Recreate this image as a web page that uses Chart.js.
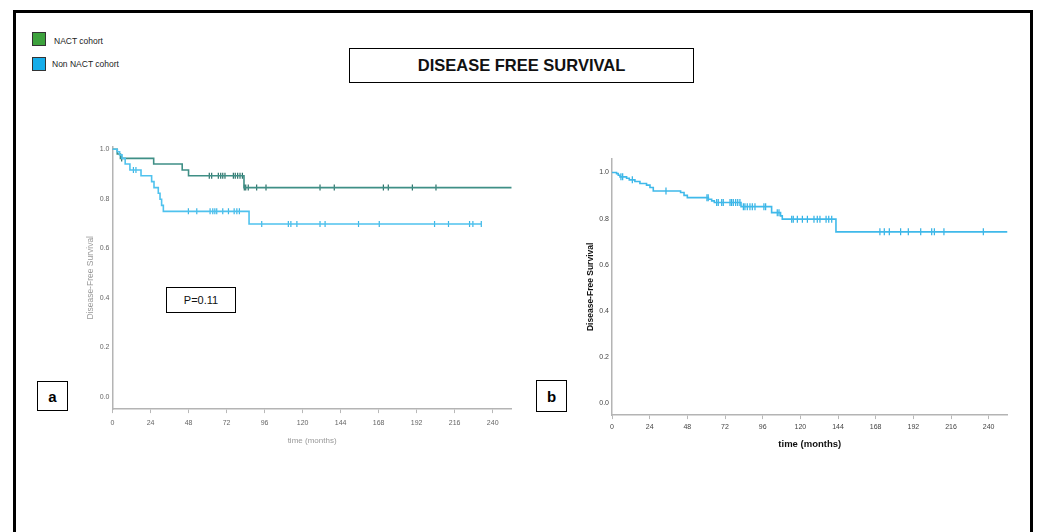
<!DOCTYPE html>
<html>
<head>
<meta charset="utf-8">
<script src="https://cdn.jsdelivr.net/npm/chart.js@4.4.1/dist/chart.umd.min.js"></script>
<style>
  html, body { margin: 0; padding: 0; background: #fff; overflow: hidden; }
  body { width: 1045px; height: 532px; position: relative; font-family: 'Liberation Sans', Arial, sans-serif; }
  .frame { position: absolute; left: 13px; top: 10px; width: 1020px; height: 560px; border: 3px solid #000; box-sizing: border-box; }
  .sq { position: absolute; width: 12px; height: 12px; border: 1px solid #333; }
  .leg { position: absolute; font-size: 8.5px; color: #222; line-height: 10px; }
  .box { position: absolute; border: 1.5px solid #000; box-sizing: border-box; display: flex; align-items: center; justify-content: center; background: #fff; }
  canvas { position: absolute; }
</style>
</head>
<body>
<div class="frame"></div>

<div class="sq" style="left:32px; top:32px; background:#3da23d;"></div>
<div class="leg" style="left:54px; top:36px;">NACT cohort</div>
<div class="sq" style="left:32px; top:57px; background:#16ade9;"></div>
<div class="leg" style="left:52px; top:59px;">Non NACT cohort</div>

<div class="box" style="left:349px; top:48px; width:345px; height:35px; font-weight:bold; font-size:16.5px; color:#111;">DISEASE FREE SURVIVAL</div>

<div class="box" style="left:166px; top:287px; width:70px; height:26px; font-size:11px; color:#111;">P=0.11</div>
<div class="box" style="left:37px; top:381px; width:31px; height:30px; font-weight:bold; font-size:15px;">a</div>
<div class="box" style="left:536px; top:380px; width:31px; height:32px; font-weight:bold; font-size:15px;">b</div>

<canvas id="chartA" width="440" height="330" style="left:80px; top:130px;"></canvas>
<canvas id="chartB" width="440" height="330" style="left:580px; top:140px;"></canvas>

<script>
// ---- data (months, survival) ----
const X_TICKS = [0, 24, 48, 72, 96, 120, 144, 168, 192, 216, 240];
const Y_TICKS = [0, 0.2, 0.4, 0.6, 0.8, 1.0];

// panel a: NACT cohort
const NACT_TIME = [0, 3, 5, 26, 44, 48, 83, 252];
const NACT_SURV = [1, 0.981, 0.963, 0.940, 0.916, 0.893, 0.845, 0.845];
const NACT_CENS = [5.8, 61.1, 62.6, 66.8, 68.3, 69.6, 71.0, 76.3, 77.5, 79.0, 80.5, 82.0,
  83.2, 84.1, 85.7, 91.0, 96.9, 131.0, 140.0, 171.0, 174.1, 189.3, 204.2];

// panel a: Non NACT cohort
const NON_TIME = [0, 3, 4.5, 6, 8, 11, 18, 24.7, 26.2, 28.9, 30, 31, 32.1, 86.2, 232.8];
const NON_SURV = [1, 0.99, 0.977, 0.963, 0.940, 0.916, 0.893, 0.869, 0.845, 0.822, 0.798, 0.773, 0.749, 0.698, 0.698];
const NON_CENS = [13.2, 14.8, 47.9, 53.2, 61.6, 63.3, 64.6, 65.8, 69.6, 73.2, 76.8, 78.5, 80.1,
  94.2, 111, 112.6, 116.4, 131, 134.2, 155.3, 168.4, 203.3, 212.1, 225.4, 227.5, 232.8];

// panel b: whole cohort
const ALL_TIME = [0, 2.9, 4, 5.1, 9.3, 11, 14.6, 17.8, 22, 24.2, 26.3, 43.7, 45.9, 48, 61.4, 63.5, 65.2,
  82.2, 101.7, 107.4, 108.5, 142.7, 252];
const ALL_SURV = [1, 0.995, 0.988, 0.981, 0.975, 0.968, 0.961, 0.952, 0.945, 0.935, 0.920, 0.913, 0.901, 0.891,
  0.884, 0.877, 0.870, 0.852, 0.826, 0.812, 0.798, 0.743, 0.743];
const ALL_CENS = [5.7, 6.8, 12.95, 34.4, 60.5, 61.3, 66.7, 67.7, 69.9, 70.9, 75.2, 76.2, 77.3, 78.8, 80.1, 81.5,
  83.7, 84.7, 86.2, 87.9, 89.4, 91.1, 96.8, 97.9, 105.3, 106.4,
  114.5, 115.5, 118.1, 121.3, 124.5, 128.7, 130.8, 132.5, 136.4, 138.1, 140,
  170.7, 173.5, 176.7, 183.9, 188.8, 196.7, 203.7, 205.4, 211.5, 236.6];

// survival level of a step curve at time t
function levelAt(times, surv, t) {
  let s = surv[0];
  for (let i = 0; i < times.length; i++) {
    if (times[i] <= t) s = surv[i];
  }
  return s;
}

function curve(times, surv, color) {
  return {
    data: times.map((t, i) => ({ x: t, y: surv[i] })),
    borderColor: color,
    borderWidth: 1.6,
    stepped: 'before',
    pointRadius: 0,
    fill: false
  };
}

function censors(cens, times, surv, color, r) {
  return {
    data: cens.map(t => ({ x: t, y: levelAt(times, surv, t) })),
    showLine: false,
    pointStyle: 'line',
    rotation: 90,
    pointRadius: r,
    pointBorderColor: color,
    pointBorderWidth: 1.2,
    borderColor: color
  };
}

const NARROW = "'Liberation Sans Narrow', 'Liberation Sans', Arial, sans-serif";

function makeOptions(cfg) {
  return {
    responsive: false,
    animation: false,
    layout: { padding: { left: 0, top: cfg.padTop, right: cfg.padRight, bottom: 0 } },
    plugins: { legend: { display: false }, tooltip: { enabled: false } },
    scales: {
      x: {
        type: 'linear',
        min: 0,
        max: 252,
        afterBuildTicks: s => { s.ticks = X_TICKS.map(v => ({ value: v })); },
        afterFit: s => { s.height = cfg.xHeight; },
        grid: { display: true, drawOnChartArea: false, drawTicks: true, tickLength: 4, color: '#b8b8b8' },
        border: { display: true, color: '#b4b4b4', width: 1.5 },
        ticks: { padding: cfg.xTickPad, maxRotation: 0, autoSkip: false,
          font: { family: NARROW, size: 7 }, color: cfg.tickColor },
        title: { display: true, text: 'time (months)', color: cfg.titleColor,
          font: { family: NARROW, size: cfg.xTitleSize, weight: cfg.titleWeight },
          padding: { top: 0, bottom: cfg.xTitlePad } }
      },
      y: {
        type: 'linear',
        min: -0.05,
        max: cfg.yMax,
        afterBuildTicks: s => { s.ticks = Y_TICKS.map(v => ({ value: v })); },
        afterFit: s => { s.width = cfg.yWidth; },
        grid: { display: false, drawTicks: false },
        border: { display: true, color: '#b4b4b4', width: 1.5 },
        ticks: { padding: 3, callback: v => v.toFixed(1),
          font: { family: NARROW, size: 7 }, color: cfg.tickColor },
        title: { display: true, text: 'Disease-Free Survival', color: cfg.titleColor,
          font: { family: NARROW, size: cfg.yTitleSize, weight: cfg.titleWeight },
          padding: { top: cfg.yTitlePad, bottom: 0 } }
      }
    }
  };
}

new Chart(document.getElementById('chartA'), {
  type: 'line',
  data: {
    datasets: [
      curve(NON_TIME, NON_SURV, '#4fc2ee'),
      censors(NON_CENS, NON_TIME, NON_SURV, '#3ab6e6', 3),
      curve(NACT_TIME, NACT_SURV, '#3f8f86'),
      censors(NACT_CENS, NACT_TIME, NACT_SURV, '#2b7169', 3)
    ]
  },
  options: makeOptions({
    padTop: 16.5, padRight: 8.3, xHeight: 50.9, yWidth: 32.5, yMax: 1.011,
    xTickPad: 5.5, tickColor: '#666', titleColor: '#999', titleWeight: 'normal',
    xTitleSize: 8, xTitlePad: 14, yTitleSize: 8.5, yTitlePad: 6
  })
});

new Chart(document.getElementById('chartB'), {
  type: 'line',
  data: {
    datasets: [
      curve(ALL_TIME, ALL_SURV, '#3fb9ea'),
      censors(ALL_CENS, ALL_TIME, ALL_SURV, '#2fb0e4', 3.5)
    ]
  },
  options: makeOptions({
    padTop: 18.6, padRight: 12.5, xHeight: 54.9, yWidth: 32, yMax: 1.06,
    xTickPad: 4, tickColor: '#444', titleColor: '#111', titleWeight: 'bold',
    xTitleSize: 9.5, xTitlePad: 20, yTitleSize: 8.5, yTitlePad: 6
  })
});
</script>
</body>
</html>
